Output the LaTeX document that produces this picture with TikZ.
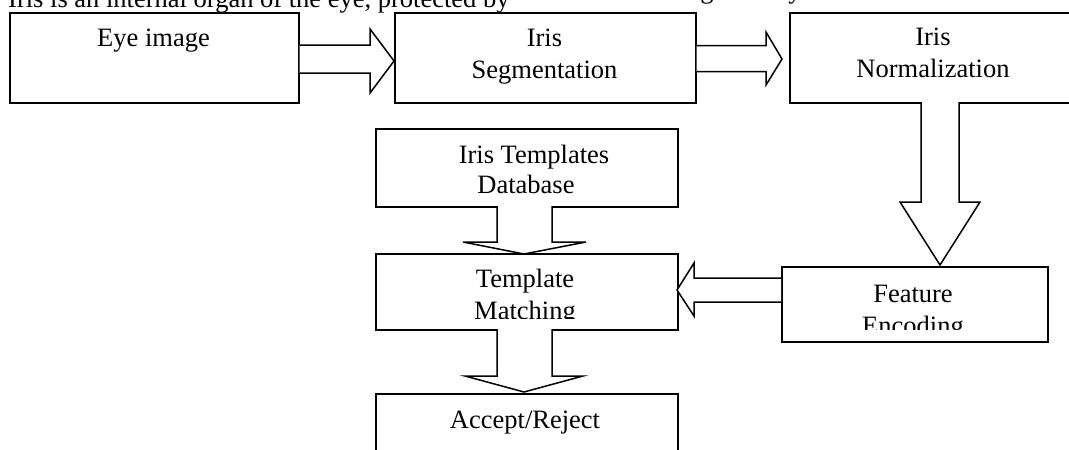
\documentclass[tikz,border=0pt]{standalone}
\usepackage{fontspec}
\setmainfont{Liberation Serif}
\begin{document}
\begin{tikzpicture}[x=1pt,y=-1pt,
  box/.style={draw,line width=1.6pt,fill=white,inner sep=0pt,anchor=north west},
  txt/.style={inner sep=0pt,anchor=base,font=\fontsize{26.5}{32}\selectfont},
  barrow/.style={draw,line width=1.5pt,fill=white,line join=miter}]
\useasboundingbox (0,0) rectangle (1069,450);
% top running text (cut by the top edge)
\node[txt,anchor=base west] (top) at (8,7) {Iris is an internal organ of the eye, protected by};
\node[txt] (frg) at (707,-2) {g};
\node[txt] (fry) at (795,-2) {y};
% boxes
\node[box,minimum width=289pt,minimum height=90pt] (b1) at (9,12) {};
\node[box,minimum width=301pt,minimum height=90pt] (b2) at (394,12) {};
\node[box,minimum width=288pt,minimum height=90pt] (b3) at (789,12) {};
\node[box,minimum width=302pt,minimum height=78pt] (db) at (375,128) {};
\node[box,minimum width=302pt,minimum height=76pt] (tm) at (375,253) {};
\node[box,minimum width=266pt,minimum height=75pt] (fe) at (781,266) {};
\node[box,minimum width=302pt,minimum height=80pt] (ar) at (375,393) {};
% texts
\node[txt] (t1) at (153.5,46) {Eye image};
\node[txt] (t2a) at (544.5,46) {Iris};
\node[txt] (t2b) at (544.5,78) {Segmentation};
\node[txt] (t3a) at (933,45) {Iris};
\node[txt] (t3b) at (933,77) {Normalization};
\node[txt] (t4a) at (534,163) {Iris Templates};
\node[txt] (t4b) at (526,193) {Database};
\node[txt] (t5a) at (525,287) {Template};
\begin{scope}
\clip (376,295) rectangle (676,318);
\node[txt] (t5b) at (525,319) {Matching};
\end{scope}
\node[txt] (t6a) at (913,302) {Feature};
\begin{scope}
\clip (782,308) rectangle (1046,329.5);
\node[txt] (t6b) at (913,334) {Encoding};
\end{scope}
\node[txt] (t7) at (525,428) {Accept/Reject};
% block arrows
\draw[barrow] (b1.east |- 0,45) -- (370,45) -- (370,29) -- (394,61) -- (370,93) -- (370,73) -- (b1.east |- 0,73);
\draw[barrow] (b2.east |- 0,45.5) -- (766,45.5) -- (766,32) -- (782,59) -- (766,85) -- (766,71.5) -- (b2.east |- 0,71.5);
\draw[barrow] (921,102) -- (921,202) -- (900,202) -- (940,265) -- (980,202) -- (959,202) -- (959,102);
\draw[barrow] (497,206) -- (497,242) -- (463,242) -- (524,254) -- (586,242) -- (552,242) -- (552,206);
\draw[barrow] (497,329) -- (497,376) -- (465,376) -- (524,392) -- (583,376) -- (552,376) -- (552,329);
\draw[barrow] (fe.west |- 0,278) -- (694,278) -- (694,263) -- (677,290) -- (694,316) -- (694,302) -- (fe.west |- 0,302);
\end{tikzpicture}
\end{document}
